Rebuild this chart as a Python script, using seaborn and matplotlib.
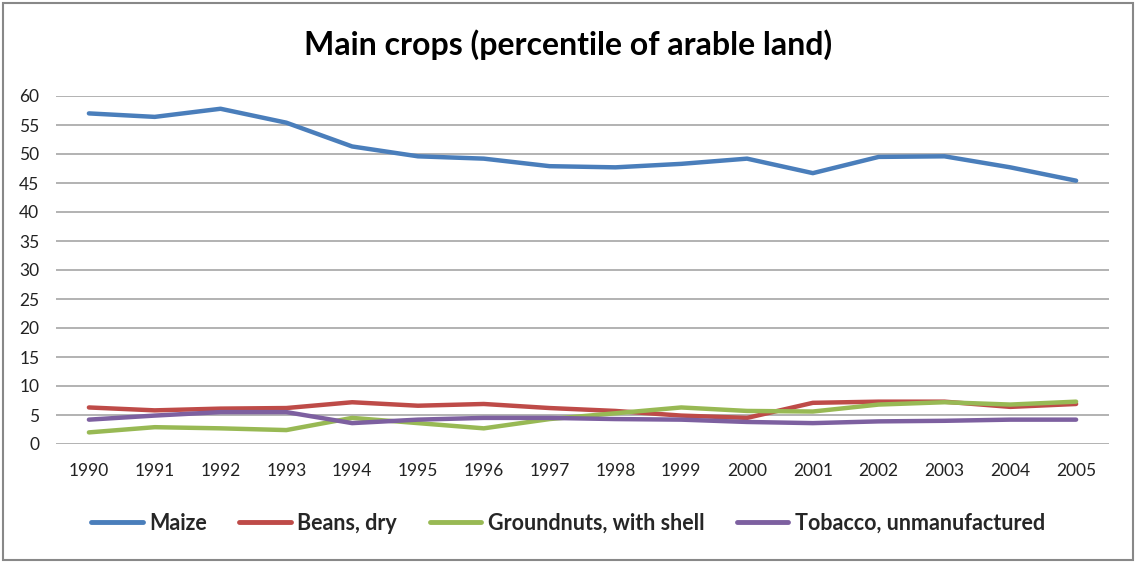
import matplotlib
matplotlib.use("Agg")
import matplotlib.pyplot as plt
import seaborn as sns
import pandas as pd

years = [str(y) for y in range(1990, 2006)]
maize = [57.0, 56.4, 57.8, 55.4, 51.3, 49.6, 49.2, 47.9, 47.7, 48.3, 49.2, 46.7, 49.5, 49.6, 47.7, 45.4]
beans = [6.3, 5.8, 6.1, 6.2, 7.2, 6.6, 6.9, 6.2, 5.7, 4.9, 4.5, 7.1, 7.3, 7.3, 6.4, 6.9]
groundnuts = [2.0, 2.9, 2.7, 2.4, 4.5, 3.6, 2.7, 4.3, 5.3, 6.3, 5.7, 5.6, 6.8, 7.2, 6.8, 7.3]
tobacco = [4.2, 4.9, 5.5, 5.5, 3.6, 4.2, 4.5, 4.5, 4.3, 4.2, 3.8, 3.6, 3.9, 4.0, 4.2, 4.2]

series = {
    "Maize": maize,
    "Beans, dry": beans,
    "Groundnuts, with shell": groundnuts,
    "Tobacco, unmanufactured": tobacco,
}
colors = ["#4A7EBB", "#BE4B48", "#98B954", "#7D60A0"]

rows = []
for name, vals in series.items():
    for i, (yr, v) in enumerate(zip(years, vals)):
        rows.append({"pos": i, "year": yr, "crop": name, "value": v})
df = pd.DataFrame(rows)

sns.set_style("white")
plt.rcParams["font.family"] = ["Lato", "DejaVu Sans"]

fig = plt.figure(figsize=(11.36, 5.63), dpi=100)
ax = fig.add_axes([56 / 1136, 1 - 444 / 563, (1109 - 56) / 1136, (444 - 96) / 563])

sns.lineplot(data=df, x="pos", y="value", hue="crop", palette=colors,
             linewidth=3.2, ax=ax, legend=False, sort=False)

ax.set_xlim(-0.5, len(years) - 0.5)
ax.set_ylim(0, 60)
ax.set_yticks(range(0, 61, 5))
ax.set_xticks(range(len(years)))
ax.set_xticklabels(years)
ax.tick_params(axis="both", length=0, labelsize=12.5, colors="#222222")
ax.tick_params(axis="x", pad=14)
ax.tick_params(axis="y", pad=12)
ax.grid(axis="y", color="#A6A6A6", linewidth=1.2)
ax.set_axisbelow(True)
for s in ax.spines.values():
    s.set_visible(False)
ax.set_xlabel("")
ax.set_ylabel("")

fig.text(0.5, 1 - 45 / 563, "Main crops (percentile of arable land)",
         ha="center", va="center", fontsize=23, fontweight="bold", color="black")

handles = [plt.Line2D([0], [0], color=c, linewidth=3.5) for c in colors]
leg = fig.legend(handles, list(series.keys()), loc="center",
                 bbox_to_anchor=(0.5, 1 - 523 / 563), ncol=4, frameon=False,
                 handlelength=2.4, columnspacing=1.5, handletextpad=0.3,
                 prop={"weight": "bold", "size": 15.5})

# Outer chart border
fig.patches.append(plt.Rectangle((3 / 1136, 3 / 563), 1 - 6 / 1136, 1 - 6 / 563,
                                 transform=fig.transFigure, fill=False,
                                 edgecolor="#888888", linewidth=1.5))

fig.savefig("out.png", dpi=100, facecolor="white")
